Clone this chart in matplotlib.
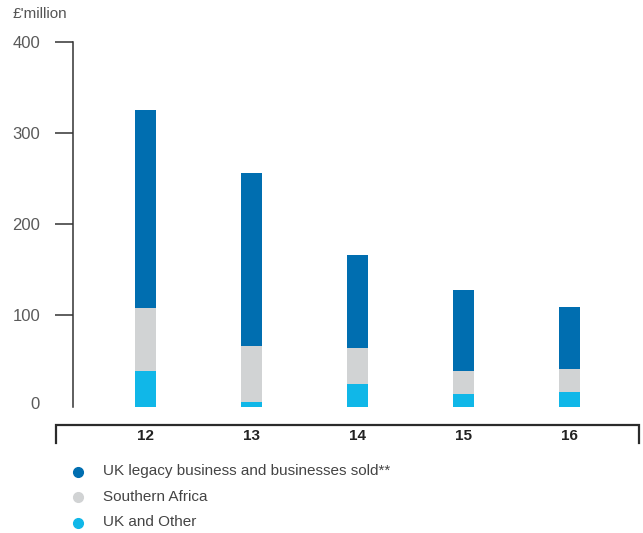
import matplotlib
matplotlib.use("Agg")
import matplotlib.pyplot as plt
from matplotlib.lines import Line2D
from matplotlib.transforms import blended_transform_factory, ScaledTranslation
import numpy as np

plt.rcParams['font.family'] = ['Liberation Sans', 'DejaVu Sans']

years = ["12", "13", "14", "15", "16"]
uk_other = [39, 5, 25, 14, 16]
southern_africa = [69, 61, 39, 25, 25]
uk_legacy = [217, 190, 102, 89, 68]

series_names = ["UK legacy business and businesses sold**", "Southern Africa", "UK and Other"]
series_colors = ["#006EB0", "#D1D3D4", "#10B7E8"]
y_ticks = [0, 100, 200, 300, 400]

W, H = 643, 533
fig = plt.figure(figsize=(W / 100, H / 100), dpi=100)

def fx(px):
    return px / W

def fy(py):
    return 1 - py / H

# plotting area: spine at x=72.7, y from 41.5 (400) to 406.5 (0)
ax = fig.add_axes([fx(72.7), fy(406.5), fx(640 - 72.7), (406.5 - 41.5) / H])

x = np.arange(len(years))
w = 0.198
ax.bar(x, uk_other, w, color=series_colors[2], linewidth=0)
ax.bar(x, southern_africa, w, bottom=uk_other, color=series_colors[1], linewidth=0)
base = np.array(uk_other) + np.array(southern_africa)
ax.bar(x, uk_legacy, w, bottom=base, color=series_colors[0], linewidth=0)

ax.set_xlim(-0.687, 4.665)
ax.set_ylim(0, 400)
for s in ["top", "right", "bottom"]:
    ax.spines[s].set_visible(False)
ax.spines["left"].set_color("#333333")
ax.spines["left"].set_linewidth(1.1)

ax.set_yticks(y_ticks)
ax.set_yticklabels([str(v) for v in y_ticks])
ax.tick_params(axis="y", direction="out", length=12.7, width=1.1, color="#333333",
               pad=10.8, labelsize=12, labelcolor="#5a5a5a")
zero_tick = ax.yaxis.get_major_ticks()[0]
zero_tick.tick1line.set_visible(False)
zero_lbl = zero_tick.label1
zero_lbl.set_transform(zero_lbl.get_transform() + ScaledTranslation(0, 3.5 / 100, fig.dpi_scale_trans))
ax.set_xticks([])

# category labels below the plot
trans = blended_transform_factory(ax.transData, fig.transFigure)
for xi, lab in zip(x, years):
    ax.text(xi, fy(436.5), lab, transform=trans, ha="center", va="center",
            fontsize=11, fontweight="bold", color="#222222")

# bracket frame around category labels
fig.add_artist(Line2D([fx(56), fx(56), fx(639), fx(639)],
                      [fy(443), fy(425), fy(425), fy(443)],
                      transform=fig.transFigure, color="#2b2b2b", linewidth=1.6,
                      solid_joinstyle="miter"))

fig.text(fx(13), fy(14), "£'million", ha="left", va="center", fontsize=11, color="#555555")

# legend
for i, (name, col) in enumerate(zip(series_names, series_colors)):
    yy = fy(471.5 + 25.5 * i)
    fig.add_artist(Line2D([fx(78)], [yy], marker="o", markersize=7, color=col,
                          linestyle="none", transform=fig.transFigure))
    fig.text(fx(103), yy, name, ha="left", va="center", fontsize=11, color="#444444")

fig.savefig("out.png", dpi=100)
